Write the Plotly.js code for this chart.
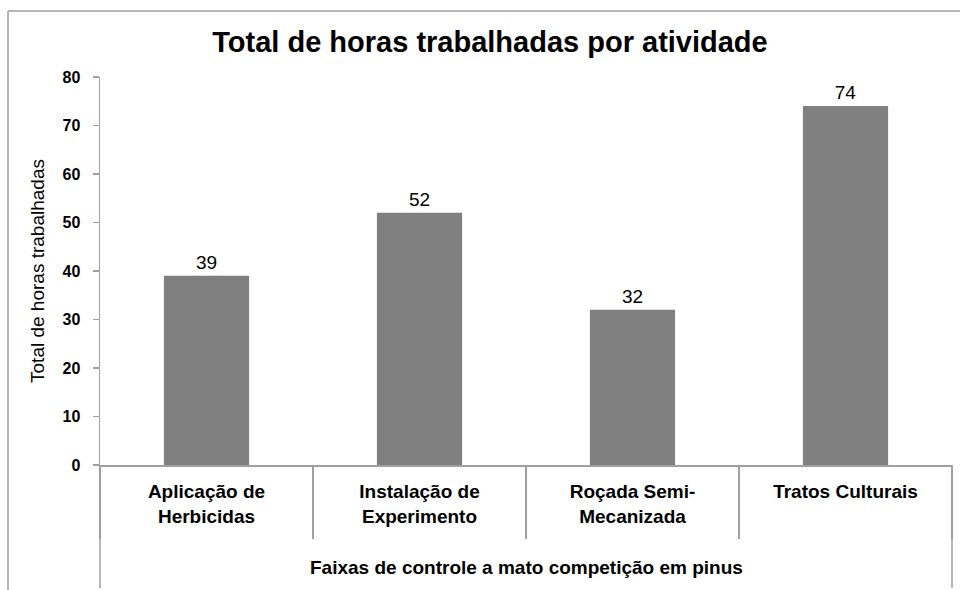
<!DOCTYPE html>
<html>
<head>
<meta charset="utf-8">
<script src="https://cdn.plot.ly/plotly-3.0.1.min.js"></script>
<style>html,body{margin:0;padding:0;background:#fff;}#chart{width:960px;height:590px;}</style>
</head>
<body>
<div id="chart"></div>
<script>
const categories = ["Aplicação de<br>Herbicidas", "Instalação de<br>Experimento", "Roçada Semi-<br>Mecanizada", "Tratos Culturais<br> "];
const hours = [39, 52, 32, 74];
const yTicks = [0, 10, 20, 30, 40, 50, 60, 70, 80];

const FONT = "Liberation Sans, Arial, sans-serif";
const AXIS = "#a0a0a0";

const traces = [
  {
    type: "bar",
    x: categories,
    y: hours,
    marker: {color: "#808080"},
    text: hours.map(String),
    textposition: "outside",
    textfont: {family: FONT, size: 19, color: "#000"},
    cliponaxis: false,
    hoverinfo: "skip",
    showlegend: false
  },
  {
    type: "bar",
    x: categories,
    y: hours.map(() => 0),
    xaxis: "x2",
    yaxis: "y",
    marker: {color: "rgba(0,0,0,0)"},
    hoverinfo: "skip",
    showlegend: false
  }
];

const layout = {
  width: 960,
  height: 590,
  margin: {l: 100, r: 8, t: 77, b: 125},
  paper_bgcolor: "#fff",
  plot_bgcolor: "#fff",
  bargap: 0.6,
  font: {family: FONT, color: "#000"},
  title: {
    text: "<b>Total de horas trabalhadas por atividade</b>",
    font: {family: FONT, size: 29, color: "#000"},
    x: 490 / 960, xref: "container", xanchor: "center",
    y: 1 - 42 / 590, yref: "container", yanchor: "middle"
  },
  xaxis: {
    type: "category",
    range: [-0.5, 3.5],
    showline: true, linecolor: AXIS, linewidth: 1.5,
    ticks: "",
    tickfont: {family: FONT, size: 19, color: "#000", weight: "bold"},
    ticklabelstandoff: 9,
    showgrid: false, zeroline: false,
    automargin: false
  },
  xaxis2: {
    type: "category",
    overlaying: "x",
    matches: "x",
    side: "bottom",
    range: [-0.5, 3.5],
    showticklabels: false,
    ticks: "outside", tickson: "boundaries",
    ticklen: 73, tickwidth: 1.5, tickcolor: AXIS,
    showgrid: false, zeroline: false, showline: false,
    automargin: false
  },
  yaxis: {
    range: [0, 80],
    tickvals: yTicks,
    ticks: "outside", ticklen: 6, tickwidth: 1.5, tickcolor: AXIS,
    showline: true, linecolor: AXIS, linewidth: 1.5,
    showgrid: false, zeroline: false,
    tickfont: {family: FONT, size: 16, color: "#000", weight: "bold"},
    ticklabelstandoff: 9,
    title: {text: "Total de horas trabalhadas", font: {family: FONT, size: 19, color: "#000"}, standoff: 13},
    automargin: false
  },
  annotations: [
    {
      text: "<b>Faixas de controle a mato competição em pinus</b>",
      xref: "paper", yref: "paper",
      x: 0.5, y: -(567 - 465) / 388,
      xanchor: "center", yanchor: "middle",
      showarrow: false,
      font: {family: FONT, size: 19, color: "#000"}
    }
  ],
  shapes: [
    {type: "line", xref: "paper", yref: "paper", x0: 0, x1: 0, y0: 0, y1: -(588 - 465) / 388, line: {color: AXIS, width: 1.5}},
    {type: "line", xref: "paper", yref: "paper", x0: 1, x1: 1, y0: 0, y1: -(588 - 465) / 388, line: {color: AXIS, width: 1.5}},
    {type: "line", xref: "paper", yref: "paper", x0: (8 - 100) / 852, x1: (8 - 100) / 852, y0: (465 - 11) / 388, y1: -0.5, line: {color: "#b5b5b5", width: 2}},
    {type: "line", xref: "paper", yref: "paper", x0: (8 - 100) / 852, x1: 1.1, y0: (465 - 11) / 388, y1: (465 - 11) / 388, line: {color: "#b5b5b5", width: 2}}
  ]
};

Plotly.newPlot("chart", traces, layout, {displayModeBar: false, staticPlot: true});
</script>
</body>
</html>
